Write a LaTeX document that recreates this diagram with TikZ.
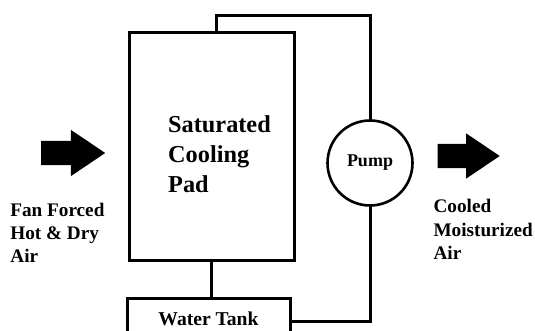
\documentclass[tikz,border=0pt]{standalone}
\usepackage{fontspec}
\setmainfont{Liberation Serif}
\usepackage{tikz}
\usetikzlibrary{positioning,calc,shapes.arrows}
\tikzset{
  pipe/.style={line width=3pt},
  padbox/.style={draw, line width=3pt, minimum width=165pt, minimum height=228pt, inner sep=0pt, outer sep=0pt},
  tankbox/.style={draw, line width=3pt, minimum width=163pt, minimum height=41.4pt, inner sep=0pt, outer sep=0pt, font=\bfseries\fontsize{19.6}{23}\selectfont},
  pumpcircle/.style={draw, circle, line width=2.6pt, minimum size=85pt, inner sep=0pt, outer sep=0pt, font=\bfseries\fontsize{18}{22}\selectfont},
  airarrow/.style={single arrow, fill=black, inner xsep=0pt, inner ysep=12pt, single arrow head extend=11pt, single arrow tip angle=68, anchor=tail},
  airlabel/.style={align=left, anchor=base west, inner sep=0pt, font=\bfseries\fontsize{19.2}{23.2}\selectfont}
}
\begin{document}
\begin{tikzpicture}[x=1pt, y=1pt]
  \useasboundingbox (0,0) rectangle (535,331);
  \clip (0,0) rectangle (535,331);
  % main parts
  \node[padbox] (pad) at (211.5,184) {};
  \node[align=left, anchor=base west, inner sep=0pt, font=\bfseries\fontsize{24.3}{30}\selectfont] (padtext) at (168,138) {Saturated\\Cooling\\Pad};
  \node[pumpcircle] (pump) at (370,168) {Pump};
  \node[tankbox] (tank) at (208.5,11.7) {Water Tank};
  % water circuit
  \draw[pipe] (pad.south) -- (pad.south |- tank.north);
  \draw[pipe] ([xshift=5.2pt]pad.north) |- (370,315.6) -- (pump.north);
  \draw[pipe] (pump.south) |- ([yshift=-2.7pt]tank.east);
  % air flow
  \node[airarrow, minimum height=64pt] (airin) at (41,178) {};
  \node[airarrow, minimum height=62pt, single arrow head extend=10.5pt] (airout) at (437.5,175) {};
  \node[airlabel] (inlabel) at (10.2,68.2) {Fan Forced\\Hot \& Dry\\Air};
  \node[airlabel] (outlabel) at (433.4,71.6) {Cooled\\Moisturized\\Air};
\end{tikzpicture}
\end{document}
